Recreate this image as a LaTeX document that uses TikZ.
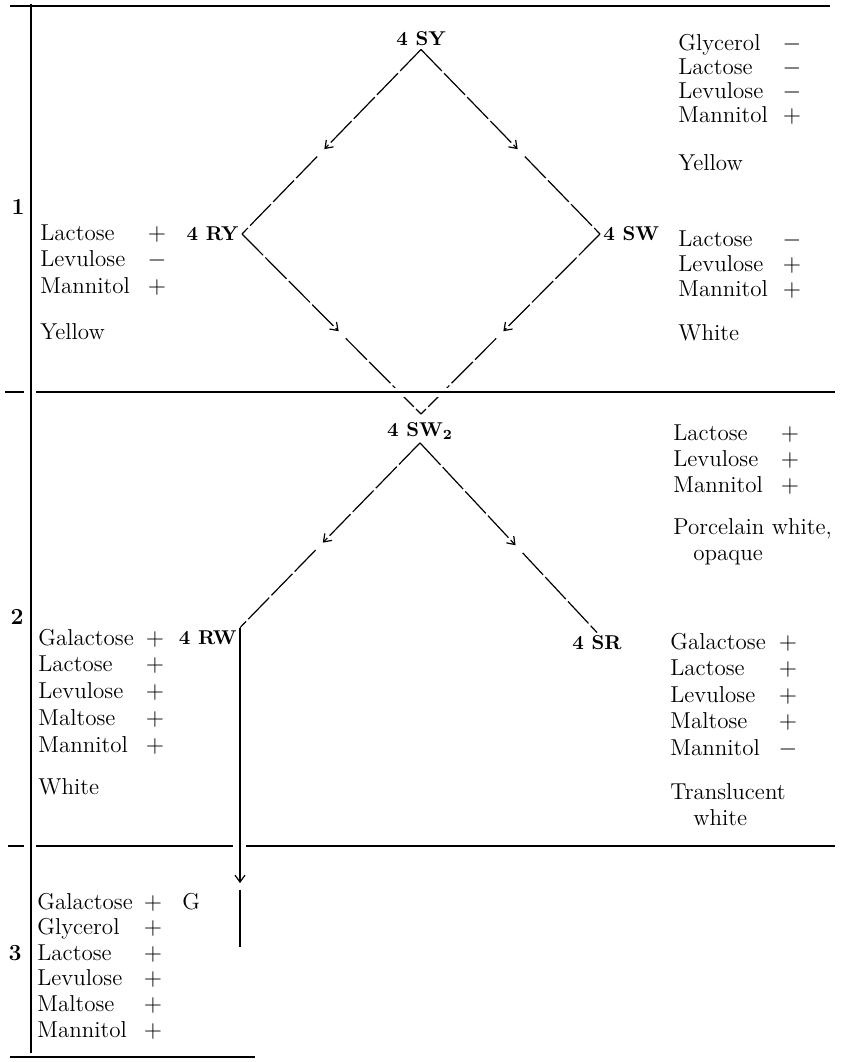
\documentclass[tikz,border=0pt]{standalone}
\usetikzlibrary{arrows.meta,calc}

\begin{document}
\begin{tikzpicture}[x=0.5pt, y=-0.5pt, >={Straight Barb[length=3.5pt,width=5pt]},
  strain/.style={font=\fontsize{10}{12}\selectfont\bfseries, inner sep=1.5pt},
  sugar/.style={anchor=base west, inner sep=0pt, font=\fontsize{11.5}{13}\selectfont},
  sign/.style={anchor=base, inner sep=0pt, font=\fontsize{11.5}{13}\selectfont},
  gen/.style={font=\fontsize{11.5}{13}\selectfont\bfseries, inner sep=0pt},
  link/.style={line width=0.6pt, dash pattern=on 15pt off 1.6pt},
  rule/.style={line width=0.6pt},
  cut/.style={rule, preaction={draw=white, line width=4.5pt}}]
\useasboundingbox (0,0) rectangle (841,1062);

% ---------- strains ----------
\node[strain] (SY) at (421,39) {4 SY};
\node[strain, anchor=east] (RY) at (242,234) {4 RY};
\node[strain, anchor=west] (SW) at (600,234) {4 SW};
\coordinate (V) at (421,414);
\node[strain] (SW2) at (420,431) {4 SW$_{\mathbf{2}}$};
\node[strain, anchor=east] (RW) at (240,638) {4 RW};
\node[strain] (SR) at (597,643) {4 SR};
\coordinate (Gend) at (240,947);

% ---------- descent lines ----------
\foreach \a/\b in {SY.south/RY.east, SY.south/SW.west, RY.east/V, SW.west/V,
                   SW2.south/RW.north east, SW2.south/SR.north} {
  \draw[link,->] (\a) -- ($(\a)!0.54!(\b)$);
  \draw[link] ($(\a)!0.58!(\b)$) -- (\b);
}
\draw[rule,->] (RW.north east) -- ($(RW.north east)!0.80!(Gend)$);
\draw[rule] ($(RW.north east)!0.82!(Gend)$) -- (Gend);

% ---------- frame ----------
\draw[rule] (10,6) -- (830,6);
\draw[rule] (31,4) -- (31,1053);
\draw[rule] (5,392) -- (24,392);
\draw[cut] (36,392) -- (835,392);
\draw[rule] (8,846) -- (24,846);
\draw[rule] (36,846) -- (233,846);
\draw[rule] (246,846) -- (835,846);
\draw[rule] (10,1057) -- (255,1057);

% generations
\node[gen] (g1) at (18,207) {1};
\node[gen] (g2) at (17,617) {2};
\node[gen] (g3) at (15,953) {3};

% ---------- reactions ----------
% 4 SY
\foreach \s/\v [count=\i] in {Glycerol/-, Lactose/-, Levulose/-, Mannitol/+} {
  \node[sugar] (sy\i) at (678,{50+24*(\i-1)}) {\s};
  \node[sign] (syv\i) at (792,{50+24*(\i-1)}) {$\v$};
}
\node[sugar] (syc) at (678,170) {Yellow};

% 4 RY
\foreach \s/\v [count=\i] in {Lactose/+, Levulose/-, Mannitol/+} {
  \node[sugar] (ry\i) at (40,{240+26.5*(\i-1)}) {\s};
  \node[sign] (ryv\i) at (157,{240+26.5*(\i-1)}) {$\v$};
}
\node[sugar] (ryc) at (40,339) {Yellow};

% 4 SW
\foreach \s/\v [count=\i] in {Lactose/-, Levulose/+, Mannitol/+} {
  \node[sugar] (sw\i) at (678,{246+25*(\i-1)}) {\s};
  \node[sign] (swv\i) at (792,{246+25*(\i-1)}) {$\v$};
}
\node[sugar] (swc) at (678,340) {White};

% 4 SW2
\foreach \s/\v [count=\i] in {Lactose/+, Levulose/+, Mannitol/+} {
  \node[sugar] (sx\i) at (673,{440+26*(\i-1)}) {\s};
  \node[sign] (sxv\i) at (790,{440+26*(\i-1)}) {$\v$};
}
\node[sugar] (sxc) at (673,534) {Porcelain white,};
\node[sugar] (sxd) at (693,560) {opaque};

% 4 RW
\foreach \s/\v [count=\i] in {Galactose/+, Lactose/+, Levulose/+, Maltose/+, Mannitol/+} {
  \node[sugar] (rw\i) at (38,{645+26.75*(\i-1)}) {\s};
  \node[sign] (rwv\i) at (155,{645+26.75*(\i-1)}) {$\v$};
}
\node[sugar] (rwc) at (38,794) {White};

% 4 SR
\foreach \s/\v [count=\i] in {Galactose/+, Lactose/+, Levulose/+, Maltose/+, Mannitol/-} {
  \node[sugar] (sr\i) at (670,{649+26.5*(\i-1)}) {\s};
  \node[sign] (srv\i) at (788,{649+26.5*(\i-1)}) {$\v$};
}
\node[sugar] (src) at (670,799) {Translucent};
\node[sugar] (srd) at (693,825) {white};

% G
\node[sugar] (G) at (182,909) {G};
\foreach \s/\v [count=\i] in {Galactose/+, Glycerol/+, Lactose/+, Levulose/+, Maltose/+, Mannitol/+} {
  \node[sugar] (gg\i) at (37,{909+25.6*(\i-1)}) {\s};
  \node[sign] (ggv\i) at (153,{909+25.6*(\i-1)}) {$\v$};
}

\end{tikzpicture}
\end{document}
